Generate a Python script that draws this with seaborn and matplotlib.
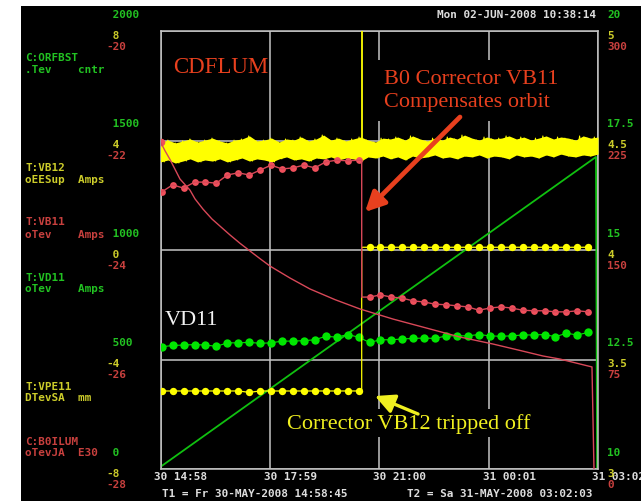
import matplotlib
matplotlib.use("Agg")
import matplotlib.pyplot as plt
from matplotlib.patches import Rectangle, FancyArrowPatch
import numpy as np
import seaborn as sns

# %% Data (time in hours after T1 = 30-MAY-2008 14:58:45)
span_hours = 12.055
tick_hours = [0.0, 3.014, 6.028, 9.041, 12.055]
tick_labels = ["30 14:58", "30 17:59", "30 21:00", "31 00:01", "31 03:02"]

# logger samples (~18 min apart) and the moment VB12 tripped
sample_hours = np.linspace(0.033, 11.788, 40)
trip_hour = 5.544
n_before = 19

vb11_amps = [-22.94, -22.81, -22.87, -22.76, -22.76, -22.78, -22.63, -22.59, -22.63, -22.54,
             -22.45, -22.52, -22.50, -22.45, -22.50, -22.39, -22.36, -22.37, -22.36,
             -24.86, -24.82, -24.86, -24.88, -24.93, -24.95, -24.99, -25.00, -25.02, -25.04,
             -25.10, -25.06, -25.04, -25.06, -25.10, -25.11, -25.11, -25.13, -25.13, -25.11, -25.13]

vb12_amps = [-5.15, -5.15, -5.15, -5.15, -5.15, -5.15, -5.15, -5.15, -5.20, -5.15,
             -5.15, -5.15, -5.15, -5.15, -5.15, -5.15, -5.15, -5.15, -5.15,
             0.10, 0.10, 0.10, 0.10, 0.10, 0.10, 0.10, 0.10, 0.10, 0.10,
             0.10, 0.10, 0.10, 0.10, 0.10, 0.10, 0.10, 0.10, 0.10, 0.10, 0.10]

vd11_amps = [12.79, 12.82, 12.83, 12.84, 12.83, 12.80, 12.88, 12.88, 12.89, 12.87,
             12.88, 12.92, 12.92, 12.93, 12.95, 13.03, 13.01, 13.07, 13.01, 12.89,
             12.95, 12.95, 12.97, 12.98, 12.99, 12.98, 13.04, 13.04, 13.04, 13.07,
             13.04, 13.03, 13.04, 13.06, 13.06, 13.07, 13.02, 13.10, 13.06, 13.12]

orfbst_hours = [0.0, 12.0, 12.03]
orfbst_cntr = [10, 1425, 0]

lum_hours = [0.0, 0.124, 0.262, 0.537, 0.813, 0.951, 1.171, 1.419, 1.915, 2.19,
             2.466, 2.74, 3.017, 3.568, 4.119, 4.808, 5.497, 6.406, 7.426, 8.252,
             9.161, 9.905, 10.539, 11.007, 11.889, 11.944]
lum_e30 = [224, 218, 212, 198.6, 191, 185, 178, 171.2, 160.3, 154.6,
           149.3, 144.1, 139.0, 130.8, 123.3, 116.0, 109.6, 102.7, 95.9, 90.4,
           85.6, 81.2, 77.4, 75.3, 69.9, 0]

# VPE11 is a noisy band: upper and lower edges of the band, in mm
vpe11_hi = [4.493, 4.502, 4.489, 4.498, 4.507, 4.493, 4.502, 4.511, 4.498, 4.489,
            4.502, 4.507, 4.521, 4.498, 4.502, 4.511, 4.493, 4.507, 4.502, 4.516,
            4.498, 4.507, 4.525, 4.502, 4.511, 4.498, 4.507, 4.516, 4.502, 4.493,
            4.511, 4.507, 4.516, 4.502, 4.521, 4.507, 4.498, 4.511, 4.502, 4.516,
            4.507, 4.525, 4.511, 4.502, 4.516, 4.507, 4.511, 4.521, 4.507, 4.516,
            4.502, 4.511, 4.521, 4.507, 4.516, 4.511, 4.502, 4.521, 4.511, 4.516]
vpe11_lo = [4.402, 4.411, 4.397, 4.406, 4.416, 4.402, 4.411, 4.406, 4.416, 4.402,
            4.411, 4.420, 4.406, 4.416, 4.411, 4.402, 4.416, 4.425, 4.411, 4.416,
            4.406, 4.420, 4.416, 4.425, 4.411, 4.420, 4.416, 4.406, 4.425, 4.420,
            4.429, 4.416, 4.425, 4.411, 4.429, 4.420, 4.425, 4.434, 4.420, 4.425,
            4.416, 4.429, 4.425, 4.434, 4.420, 4.429, 4.425, 4.416, 4.434, 4.425,
            4.429, 4.420, 4.434, 4.425, 4.438, 4.429, 4.425, 4.434, 4.429, 4.438]
vpe11_trip_base = 4.46
vpe11_trip_peak = 5.3

left_green_ticks = [0, 500, 1000, 1500, 2000]
left_yellow_ticks = [-8, -4, 0, 4, 8]
left_red_ticks = [-28, -26, -24, -22, -20]
right_green_ticks = [10, 12.5, 15, 17.5, 20]
right_yellow_ticks = [3, 3.5, 4, 4.5, 5]
right_red_ticks = [0, 75, 150, 225, 300]

# %% Style
GREEN_TXT = "#22c222"
YELLOW_TXT = "#cccc2a"
RED_TXT = "#c8403e"
GRID = "#c4c4c4"
YELLOW = "#ffff00"
GREEN = "#00e600"
RAMP = "#10c010"
RED_DOT = "#f0505c"
RED_LINE = "#d84858"
ANNOT_RED = "#e8401e"
MONO = "DejaVu Sans Mono"
SERIF = "Liberation Serif"

sns.set_theme(style="dark", rc={"axes.facecolor": "black", "figure.facecolor": "white"})
plt.rcParams["font.family"] = [MONO, "DejaVu Sans"]

W, H = 641, 502
fig = plt.figure(figsize=(W / 100, H / 100), dpi=100)
fig.add_artist(Rectangle((21 / W, 0), 1 - 21 / W, 1 - 7 / H, transform=fig.transFigure,
                         facecolor="black", edgecolor="none", zorder=-10))

ax = fig.add_axes([160.5 / W, 1 - 470 / H, (598 - 160.5) / W, (470 - 32) / H])
ax.set_facecolor("black")


def twin(lo, hi):
    t = ax.twinx()
    t.set_ylim(lo, hi)
    t.axis("off")
    return t


ax_vd11 = twin(10, 20)
ax_vb12 = twin(-8, 8)
ax_vpe11 = twin(3, 5)
ax_lum = twin(0, 300)
ax_vb11 = twin(-28, -20)

# %% Traces
# C:ORFBST counter ramp
sns.lineplot(x=orfbst_hours, y=orfbst_cntr, ax=ax, color=RAMP, linewidth=1.3,
             sort=False, estimator=None)

# T:VD11
sns.lineplot(x=sample_hours, y=vd11_amps, ax=ax_vd11, color=GREEN, linewidth=0.8,
             sort=False, estimator=None)
sns.scatterplot(x=sample_hours, y=vd11_amps, ax=ax_vd11, color=GREEN, s=36, linewidth=0)


def step_line(vals):
    h = np.concatenate([sample_hours[:n_before], [trip_hour, trip_hour], sample_hours[n_before:]])
    v = vals[:n_before] + [vals[n_before - 1], vals[n_before]] + vals[n_before:]
    return h, v


# T:VB12
h, v = step_line(vb12_amps)
sns.lineplot(x=h, y=v, ax=ax_vb12, color=YELLOW, linewidth=0.9, sort=False, estimator=None)
sns.scatterplot(x=sample_hours, y=vb12_amps, ax=ax_vb12, color=YELLOW, s=28, linewidth=0)

# T:VPE11 noisy band + excursion at the trip
band_hours = np.linspace(0, span_hours, len(vpe11_hi))
ax_vpe11.fill_between(band_hours, vpe11_lo, vpe11_hi, color=YELLOW, linewidth=0)
zz_hours = np.linspace(0, span_hours, 2 * len(vpe11_hi))
zz_vals = np.column_stack([vpe11_hi, vpe11_lo]).ravel()
ax_vpe11.plot(zz_hours, zz_vals, color=YELLOW, linewidth=0.7)
ax_vpe11.plot([trip_hour, trip_hour], [vpe11_trip_base, vpe11_trip_peak], color=YELLOW, linewidth=1.3)

# C:B0ILUM luminosity
sns.lineplot(x=lum_hours, y=lum_e30, ax=ax_lum, color=RED_LINE, linewidth=1.0,
             sort=False, estimator=None)
sns.scatterplot(x=lum_hours[:1], y=lum_e30[:1], ax=ax_lum, color=RED_DOT, s=30, linewidth=0)

# T:VB11
h, v = step_line(vb11_amps)
sns.lineplot(x=h, y=v, ax=ax_vb11, color=RED_LINE, linewidth=1.0, sort=False, estimator=None)
sns.scatterplot(x=sample_hours, y=vb11_amps, ax=ax_vb11, color=RED_DOT, s=24, linewidth=0)

# %% Axes frame and grid
ax.set_xlim(0, span_hours)
ax.set_ylim(0, 2000)
ax.set_xticks(tick_hours)
ax.set_yticks(left_green_ticks)
ax.tick_params(length=0, labelbottom=False, labelleft=False)
ax.set_xlabel("")
ax.set_ylabel("")
ax.grid(True, color=GRID, linewidth=1.1)
for s in ax.spines.values():
    s.set_color(GRID)
    s.set_linewidth(1.1)
for t, lo, hi in [(ax_vd11, 10, 20), (ax_vb12, -8, 8), (ax_vpe11, 3, 5),
                  (ax_lum, 0, 300), (ax_vb11, -28, -20)]:
    t.set_ylim(lo, hi)
    t.set_xlim(0, span_hours)

# %% Stacked scale labels
scales = [
    (ax, left_green_ticks, GREEN_TXT, 0, 17),
    (ax_vb12, left_yellow_ticks, YELLOW_TXT, 0, -4),
    (ax_vb11, left_red_ticks, RED_TXT, 0, -15),
    (ax_vd11, right_green_ticks, GREEN_TXT, 1, 17),
    (ax_vpe11, right_yellow_ticks, YELLOW_TXT, 1, -4),
    (ax_lum, right_red_ticks, RED_TXT, 1, -15),
]
for a, ticks, col, side, dy in scales:
    for val in ticks:
        text = f"{val: d}" if side == 0 else f"{val:g}"
        dx = 106 - 160.5 if side == 0 else 9
        a.annotate(text, xy=(side, val), xycoords=("axes fraction", "data"),
                   xytext=(dx, dy), textcoords="offset pixels", ha="left", va="center",
                   color=col, fontsize=7.9, fontweight="bold", family=MONO,
                   annotation_clip=False)

for hr, lab in zip(tick_hours, tick_labels):
    ax.annotate(lab, xy=(hr, 0), xycoords=("data", "axes fraction"), xytext=(-6, -7),
                textcoords="offset pixels", ha="left", va="center", color="#dedede",
                fontsize=7.9, fontweight="bold", family=MONO, annotation_clip=False)

# channel names on the left
channels = [
    ("C:ORFBST", ".Tev    cntr", GREEN_TXT, 58, 70),
    ("T:VB12", "oEESup  Amps", YELLOW_TXT, 168, 180),
    ("T:VB11", "oTev    Amps", RED_TXT, 222, 235),
    ("T:VD11", "oTev    Amps", GREEN_TXT, 278, 289),
    ("T:VPE11", "DTevSA  mm", YELLOW_TXT, 387, 398),
    ("C:B0ILUM", "oTevJA  E30", RED_TXT, 442, 453),
]
for name, unit, col, y1, y2 in channels:
    for txt, yy in [(name, y1), (unit, y2)]:
        fig.text(25 / W, 1 - yy / H, txt, color=col, fontsize=7.9, fontweight="bold",
                 family=MONO, ha="left", va="center")

fig.text(437 / W, 1 - 15 / H, "Mon 02-JUN-2008 10:38:14", color="#dedede", fontsize=7.9,
         fontweight="bold", family=MONO, ha="left", va="center")
fig.text(162 / W, 1 - 494 / H, "T1 = Fr 30-MAY-2008 14:58:45", color="#dedede", fontsize=7.9,
         fontweight="bold", family=MONO, ha="left", va="center")
fig.text(407 / W, 1 - 494 / H, "T2 = Sa 31-MAY-2008 03:02:03", color="#dedede", fontsize=7.9,
         fontweight="bold", family=MONO, ha="left", va="center")

# %% Slide annotations
fig.text(173 / W, 1 - 73 / H, "CDFLUM", color=ANNOT_RED, fontsize=16.5, family=SERIF,
         ha="left", va="baseline")
fig.text(384 / W, 1 - 107 / H, "B0 Corrector VB11\nCompensates orbit", color=ANNOT_RED,
         fontsize=16, family=SERIF, ha="left", va="baseline", linespacing=1.25,
         bbox=dict(facecolor="black", edgecolor="none", pad=7))
fig.text(165 / W, 1 - 325 / H, "VD11", color="#f2f2f2", fontsize=16, family=SERIF,
         ha="left", va="baseline")
fig.text(287 / W, 1 - 429 / H, "Corrector VB12 tripped off", color="#f0f020", fontsize=16,
         family=SERIF, ha="left", va="baseline",
         bbox=dict(facecolor="black", edgecolor="none", pad=3))

# arrows sit on top of everything, in figure pixels (origin bottom-left)
for tail, tip, col, lw in [((460, H - 118), (365, H - 213), ANNOT_RED, 3.4),
                           ((418, H - 415), (375, H - 397), "#f0f020", 2.4)]:
    fig.add_artist(FancyArrowPatch(tail, tip, transform=None, zorder=20,
                                   arrowstyle="-|>,head_length=0.9,head_width=0.45",
                                   mutation_scale=13, color=col, lw=lw,
                                   shrinkA=0, shrinkB=0))

fig.savefig("out.png", dpi=100)
